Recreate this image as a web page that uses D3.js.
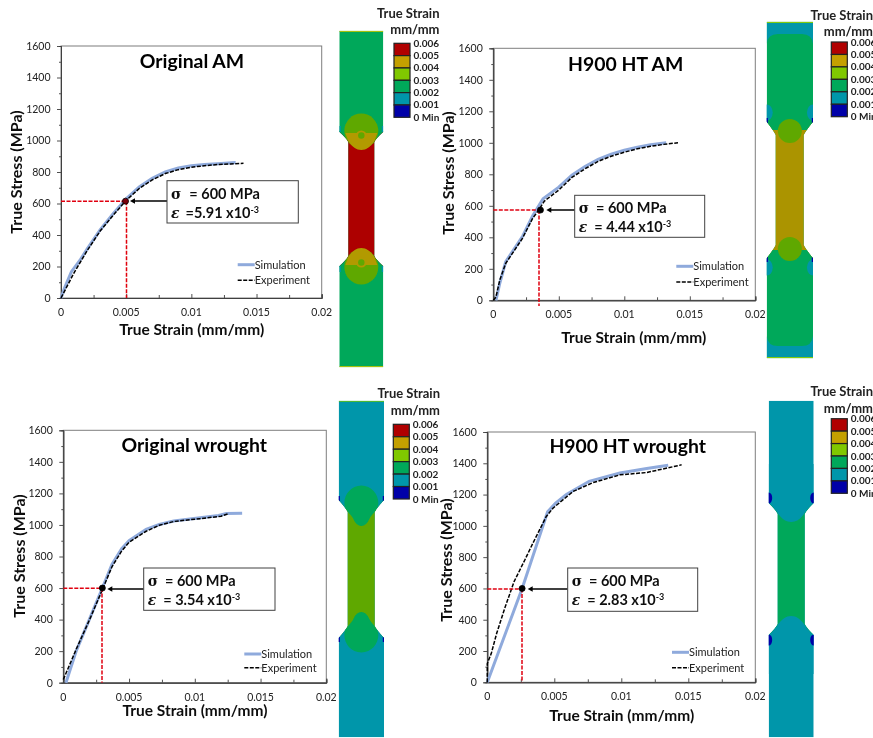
<!DOCTYPE html>
<html>
<head>
<meta charset="utf-8">
<script src="https://cdn.jsdelivr.net/npm/d3@7"></script>
<style>
  html, body { margin: 0; padding: 0; background: #fff; overflow: hidden; }
  svg { display: block; }
  text { font-family: Lato, "Open Sans", sans-serif; }
</style>
</head>
<body>
<svg width="873" height="738"></svg>
<script>
// stress-strain curves, [strain, stress MPa]
const origAmSim = [[0,0],[0.0003,70],[0.0008,167],[0.0015,245],[0.002,310],[0.003,432],[0.004,535],[0.005,630],[0.006,705],[0.007,760],[0.008,800],[0.009,825],[0.01,840],[0.011,848],[0.012,853],[0.0134,860]];
const origAmExp = [[0,0],[0.0005,80],[0.001,160],[0.002,300],[0.003,425],[0.004,525],[0.005,620],[0.006,695],[0.007,750],[0.008,790],[0.009,815],[0.01,830],[0.011,840],[0.012,847],[0.013,851],[0.014,855]];
const h900AmSim = [[0.0002,0],[0.0005,110],[0.00095,245],[0.00226,410],[0.003,535],[0.0034,590],[0.0038,645],[0.005,718],[0.006,795],[0.007,850],[0.008,895],[0.009,928],[0.01,953],[0.011,972],[0.012,987],[0.0132,1000]];
const h900AmExp = [[0,0],[0.0002,20],[0.0005,130],[0.00095,235],[0.0022,390],[0.003,520],[0.0034,565],[0.0039,630],[0.005,700],[0.006,780],[0.007,835],[0.008,882],[0.009,915],[0.01,940],[0.011,962],[0.012,978],[0.013,990],[0.0141,1000]];
const origWrSim = [[0.0002,0],[0.001,205],[0.002,405],[0.00297,600],[0.0037,750],[0.00444,850],[0.005,900],[0.0063,972],[0.0073,1003],[0.0084,1025],[0.0104,1045],[0.0118,1060],[0.0124,1072],[0.0136,1074]];
const origWrExp = [[0,20],[0.001,215],[0.002,400],[0.00297,590],[0.0037,735],[0.00444,835],[0.005,890],[0.0063,960],[0.0073,998],[0.0084,1022],[0.0104,1040],[0.012,1055],[0.0125,1070]];
const h900WrSim = [[0,0],[0.0026,600],[0.0045,1090],[0.0051,1145],[0.0059,1200],[0.0076,1285],[0.0099,1338],[0.0119,1367],[0.0135,1387]];
const h900WrExp = [[0,0],[0,120],[0.0003,185],[0.0007,313],[0.0013,473],[0.002,644],[0.0028,782],[0.0034,889],[0.0044,1060],[0.0049,1113],[0.0064,1220],[0.0079,1277],[0.0099,1326],[0.0119,1341],[0.0145,1390]];

const xTickLabels = [0, 0.005, 0.01, 0.015, 0.02];
const xMinorTicks = [0.0025, 0.0075, 0.0125, 0.0175];
const yTickLabels = [0, 200, 400, 600, 800, 1000, 1200, 1400, 1600];
const yMinorTicks = [100, 300, 500, 700, 900, 1100, 1300, 1500];

const legendLabels = ['0.006', '0.005', '0.004', '0.003', '0.002', '0.001', '0 Min'];
const legendColors = ['#b00000', '#c4a000', '#80c800', '#00a85a', '#0096aa', '#0000a8'];
const seriesNames = ['Simulation', 'Experiment'];

const chartTitles = ['Original AM', 'H900 HT AM', 'Original wrought', 'H900 HT wrought'];
const stressText = ['= 600 MPa', '= 600 MPa', '= 600 MPa', '= 600 MPa'];
const strainText = ['=5.91 x10', '= 4.44 x10', '= 3.54 x10', '= 2.83 x10'];
const markerPoints = [[0.00495, 615], [0.0036, 573], [0.00297, 600], [0.0026, 600]];
const simSeries = [origAmSim, h900AmSim, origWrSim, h900WrSim];
const expSeries = [origAmExp, h900AmExp, origWrExp, h900WrExp];

// layout of each panel, all in page pixels
const layouts = [
  { x0: 61, x1: 321.7, y0: 298, y1: 46, titleX: 192, titleY: 61, xLabX: 191.7, xLabY: 330, yLabX: 16, yLabY: 172,
    box: [167, 180.7, 298.3, 223], tip: 130, arrowY: 201, markFill: '#7a0010', hLineY: 201.3, vLineX: 126.5, vEnd: 298, legX: 237.7, legY: [264.7, 280.3], sigGap: 8, epsGap: 6 },
  { x0: 493.3, x1: 755.3, y0: 300.3, y1: 48.3, titleX: 625.7, titleY: 64, xLabX: 633.7, xLabY: 337.7, yLabX: 448.7, yLabY: 173,
    box: [574.7, 195.3, 704.7, 237.3], tip: 546.3, arrowY: 210, markFill: '#000', hLineY: 210, vLineX: 539, vEnd: 306, legX: 676.3, legY: [266.3, 282], sigGap: 7, epsGap: 7 },
  { x0: 63.3, x1: 326.3, y0: 682.7, y1: 430.3, titleX: 194.3, titleY: 445, xLabX: 195, xLabY: 710.7, yLabX: 19, yLabY: 556,
    box: [143.7, 568, 275, 610.3], tip: 107.3, arrowY: 589, markFill: '#000', hLineY: 588.3, vLineX: 102, vEnd: 682.7, legX: 244.3, legY: [654, 667.7], sigGap: 7, epsGap: 7 },
  { x0: 487.3, x1: 755.3, y0: 682.3, y1: 432, titleX: 627.7, titleY: 446.7, xLabX: 621.7, xLabY: 715.7, yLabX: 446, yLabY: 560,
    box: [567.7, 568, 697.7, 611.3], tip: 527.7, arrowY: 589, markFill: '#000', hLineY: 589, vLineX: 522, vEnd: 682.3, legX: 672, legY: [652.3, 667.7], sigGap: 7, epsGap: 7 }
];

const legendLayouts = [
  { barX: 394, top: 43.3, bottom: 117.3, titleR: 439.5, t1: 13, t2: 29 },
  { barX: 831.3, top: 42, bottom: 116.7, titleR: 873, t1: 15, t2: 31.7 },
  { barX: 393.3, top: 424.3, bottom: 499, titleR: 440, t1: 393.3, t2: 410 },
  { barX: 831.3, top: 418.7, bottom: 493.3, titleR: 873, t1: 391.7, t2: 408.3 }
];

const svg = d3.select('svg');
svg.append('rect').attr('width', 873).attr('height', 738).attr('fill', '#fff');

const defs = svg.append('defs');
defs.append('filter').attr('id', 'soft').append('feGaussianBlur').attr('stdDeviation', 0.5);
defs.append('filter').attr('id', 'softer').append('feGaussianBlur').attr('stdDeviation', 0.3);

layouts.forEach((p, i) => {
  const g = svg.append('g').attr('filter', 'url(#softer)');

  const xScale = d3.scaleLinear().domain([0, 0.02]).range([p.x0, p.x1]);
  const yScale = d3.scaleLinear().domain([0, 1600]).range([p.y0, p.y1]);

  // frame
  g.append('rect')
    .attr('x', p.x0).attr('y', p.y1)
    .attr('width', p.x1 - p.x0).attr('height', p.y0 - p.y1)
    .attr('fill', 'none').attr('stroke', '#7f7f7f').attr('stroke-width', 1);

  // Axes
  g.append('g').attr('transform', `translate(0,${p.y0})`)
    .call(d3.axisTop(xScale).tickValues(xTickLabels).tickSize(4).tickFormat(''));
  g.append('g').attr('transform', `translate(0,${p.y0})`)
    .call(d3.axisTop(xScale).tickValues(xMinorTicks).tickSize(3).tickFormat(''));
  const yAxis = g.append('g').attr('transform', `translate(${p.x0},0)`)
    .call(d3.axisLeft(yScale).tickValues(yTickLabels).tickSize(4).tickFormat(d => d));
  g.append('g').attr('transform', `translate(${p.x0},0)`)
    .call(d3.axisLeft(yScale).tickValues(yMinorTicks).tickSize(2).tickFormat(''));
  g.selectAll('.domain').attr('stroke', '#404040');
  g.selectAll('.tick line').attr('stroke', '#505050');

  yAxis.selectAll('text')
    .attr('x', -10.5).style('font-size', '10.5px').attr('fill', '#222');

  xTickLabels.forEach(t => {
    g.append('text')
      .attr('x', xScale(t)).attr('y', p.y0 + 18)
      .attr('text-anchor', 'middle')
      .style('font-size', '10.5px').attr('fill', '#222')
      .text(t);
  });

  // Labels
  g.append('text')
    .attr('x', p.titleX).attr('y', p.titleY)
    .attr('dy', '0.35em').attr('text-anchor', 'middle')
    .style('font-size', '19.4px').style('font-weight', 700).attr('fill', '#000')
    .text(chartTitles[i]);

  g.append('text')
    .attr('x', p.xLabX).attr('y', p.xLabY)
    .attr('dy', '0.35em').attr('text-anchor', 'middle')
    .style('font-size', '15.5px').style('font-weight', 700).attr('fill', '#111')
    .text('True Strain (mm/mm)');

  g.append('text')
    .attr('transform', `translate(${p.yLabX},${p.yLabY}) rotate(-90)`)
    .attr('dy', '0.35em').attr('text-anchor', 'middle')
    .style('font-size', '16px').style('font-weight', 700).attr('fill', '#111')
    .text('True Stress (MPa)');

  // Curves
  const toPix = d3.line().x(d => xScale(d[0])).y(d => yScale(d[1]));
  g.append('path').attr('d', toPix(simSeries[i]))
    .attr('fill', 'none').attr('stroke', '#8faadc').attr('stroke-width', 3);
  g.append('path').attr('d', toPix(expSeries[i]))
    .attr('fill', 'none').attr('stroke', '#000').attr('stroke-width', 1.5).attr('stroke-dasharray', '4,1.5');

  // red guide lines to the marked point
  const [mx, my] = markerPoints[i];
  g.append('line')
    .attr('x1', p.x0).attr('x2', xScale(mx)).attr('y1', p.hLineY).attr('y2', p.hLineY)
    .attr('stroke', '#e00010').attr('stroke-width', 1.5).attr('stroke-dasharray', '4,1.5');
  g.append('line')
    .attr('x1', p.vLineX).attr('x2', p.vLineX).attr('y1', yScale(my)).attr('y2', p.vEnd)
    .attr('stroke', '#e00010').attr('stroke-width', 1.5).attr('stroke-dasharray', '4,1.5');

  // annotation box and arrow
  const [bx0, by0, bx1, by1] = p.box;
  g.append('line')
    .attr('x1', bx0).attr('x2', p.tip + 4).attr('y1', p.arrowY).attr('y2', p.arrowY)
    .attr('stroke', '#000').attr('stroke-width', 1.5);
  g.append('path')
    .attr('d', `M${p.tip},${p.arrowY}l5,-2.8v5.6z`).attr('fill', '#000');

  g.append('circle')
    .attr('cx', xScale(mx)).attr('cy', yScale(my)).attr('r', 3)
    .attr('fill', p.markFill).attr('stroke', '#000').attr('stroke-width', 0.8);

  g.append('rect')
    .attr('x', bx0).attr('y', by0)
    .attr('width', bx1 - bx0).attr('height', by1 - by0)
    .attr('fill', '#fff').attr('stroke', '#404040').attr('stroke-width', 1);

  const sigma = g.append('text')
    .attr('x', bx0 + 4).attr('y', by0 + 18)
    .style('font-size', '14.5px').style('font-weight', 700).attr('fill', '#111');
  sigma.append('tspan').style('font-family', '"DejaVu Serif"').style('font-size', '14px').text('σ');
  sigma.append('tspan').attr('dx', p.sigGap).text(stressText[i]);

  const eps = g.append('text')
    .attr('x', bx0 + 4).attr('y', by0 + 37)
    .style('font-size', '14.5px').style('font-weight', 700).attr('fill', '#111');
  eps.append('tspan').style('font-family', '"DejaVu Serif"').style('font-style', 'italic').style('font-size', '14px').text('ε');
  eps.append('tspan').attr('dx', p.epsGap).text(strainText[i]);
  eps.append('tspan').attr('dy', -5).style('font-size', '9px').text('-3');

  // series legend
  seriesNames.forEach((name, k) => {
    g.append('line')
      .attr('x1', p.legX).attr('x2', p.legX + 17)
      .attr('y1', p.legY[k]).attr('y2', p.legY[k])
      .attr('stroke', k === 0 ? '#8faadc' : '#000')
      .attr('stroke-width', k === 0 ? 3 : 1.5)
      .attr('stroke-dasharray', k === 0 ? null : '4,1.5');
    g.append('text')
      .attr('x', p.legX + 17).attr('y', p.legY[k])
      .attr('dy', '0.35em')
      .style('font-size', '11px').attr('fill', '#222')
      .text(name);
  });
});

// Contour legends
legendLayouts.forEach(l => {
  const g = svg.append('g').attr('filter', 'url(#softer)');
  const yBand = d3.scaleBand().domain(d3.range(legendColors.length)).range([l.top, l.bottom]);

  g.selectAll('rect').data(legendColors).join('rect')
    .attr('x', l.barX).attr('y', (d, i) => yBand(i))
    .attr('width', 16).attr('height', yBand.bandwidth())
    .attr('fill', d => d).attr('stroke', '#222').attr('stroke-width', 1.2);

  const yLab = d3.scalePoint().domain(legendLabels).range([l.top, l.bottom]);
  g.selectAll('text.val').data(legendLabels).join('text')
    .attr('class', 'val')
    .attr('x', l.barX + 19.5).attr('y', d => yLab(d))
    .attr('dy', '0.35em')
    .style('font-size', '10px').style('font-weight', 700).attr('fill', '#222')
    .text(d => d);

  [['True Strain', l.t1], ['mm/mm', l.t2]].forEach(([txt, y]) => {
    g.append('text')
      .attr('x', l.titleR).attr('y', y)
      .attr('dy', '0.35em').attr('text-anchor', 'end')
      .style('font-size', '13px').style('font-weight', 700).attr('fill', '#222')
      .text(txt);
  });
});

// Specimen contours, symmetric about the mid height
const specimens = [
  { left: 339.3, right: 383.3, top: 30.7, bottom: 367.3, gLeft: 348.3, gRight: 374.3, sh0: 67.3, sh1: 57, grip: '#00a85a', gauge: '#ad0000', kind: 'am' },
  { left: 766.7, right: 813, top: 21.7, bottom: 358.3, gLeft: 775.7, gRight: 803.7, sh0: 68.3, sh1: 55, grip: '#00a85a', gauge: '#ab9400', kind: 'ht' },
  { left: 338.7, right: 384, top: 400.7, bottom: 737.3, gLeft: 347.7, gRight: 374.7, sh0: 69, sh1: 57, grip: '#0096aa', gauge: '#5fa800', kind: 'wr' },
  { left: 768.7, right: 813.7, top: 400.7, bottom: 737.3, gLeft: 777.7, gRight: 804.7, sh0: 66, sh1: 55, grip: '#0096aa', gauge: '#00a85a', kind: 'htw' }
];

specimens.forEach((s, i) => {
  const mid = (s.top + s.bottom) / 2;
  const cx = (s.left + s.right) / 2;
  const g = svg.append('g').attr('filter', 'url(#soft)');

  // outline: grip, sloped shoulder, gauge and back out
  const yA = mid - s.sh0, yB = mid - s.sh1, yC = mid + s.sh1, yD = mid + s.sh0;
  const outline = `M${s.left},${s.top}H${s.right}V${yA}` +
    `Q${s.gRight + 1.5},${yB - 3.5} ${s.gRight},${yB}V${yC}Q${s.gRight + 1.5},${yC + 3.5} ${s.right},${yD}V${s.bottom}` +
    `H${s.left}V${yD}Q${s.gLeft - 1.5},${yC + 3.5} ${s.gLeft},${yC}V${yB}Q${s.gLeft - 1.5},${yB - 3.5} ${s.left},${yA}Z`;

  defs.append('clipPath').attr('id', `spec${i}`).append('path').attr('d', outline);

  const c = g.append('g').attr('clip-path', `url(#spec${i})`);
  const rect = (x, y, w, h, fill) => c.append('rect').attr('x', x).attr('y', y).attr('width', w).attr('height', h).attr('fill', fill);
  const both = (fn) => { fn(1); fn(-1); };

  rect(s.left, s.top, s.right - s.left, s.bottom - s.top, s.grip);
  rect(s.left, yA, s.right - s.left, yD - yA, s.gauge);

  if (s.kind === 'am') {
    both(d => {
      const y = v => mid + d * v;
      rect(s.left, Math.min(y(68), y(60)), s.right - s.left, 8, s.grip);
      // olive bulb with a gold cap towards the gauge
      c.append('ellipse').attr('cx', cx).attr('cy', y(68)).attr('rx', 17).attr('ry', 17.5).attr('fill', '#5fa800');
      c.append('path')
        .attr('d', `M${cx - 16},${y(66)}H${cx + 16}L${cx + 13},${y(58)}C${cx + 9},${y(52)} ${cx + 5},${y(49)} ${cx},${y(49)}C${cx - 5},${y(49)} ${cx - 9},${y(52)} ${cx - 13},${y(58)}Z`)
        .attr('fill', '#b29a00');
      c.append('circle').attr('cx', cx).attr('cy', y(63)).attr('r', 5.5).attr('fill', '#b29a00');
      c.append('circle').attr('cx', cx).attr('cy', y(63.5)).attr('r', 3.2).attr('fill', '#5fa800');
      rect(s.left, y(70) - 3, 1.5, 6, '#0096aa');
      rect(s.right - 1.5, y(70) - 3, 1.5, 6, '#0096aa');
    });
    rect(s.left, s.top, s.right - s.left, 1.2, '#b9c400');
    rect(s.left, s.bottom - 1.2, s.right - s.left, 1.2, '#b9c400');
  }

  if (s.kind === 'ht') {
    both(d => {
      const y = v => mid + d * v;
      const edge = d > 0 ? s.bottom : s.top;
      // teal end cap, green dome inside it
      c.append('path')
        .attr('d', `M${s.left},${edge}H${s.right}V${y(146)}Q${s.right - 1},${y(156)} ${s.right - 11},${y(156)}H${s.left + 11}Q${s.left + 1},${y(156)} ${s.left},${y(146)}Z`)
        .attr('fill', '#0096aa');
      // green shoulder pieces around the bulb
      rect(s.left, Math.min(y(70), y(60)), s.right - s.left, 10, s.grip);
      c.append('circle').attr('cx', cx).attr('cy', y(59)).attr('r', 12).attr('fill', '#5fa800');
      // side pockets and corner tips
      [s.left, s.right].forEach(ex => {
        c.append('ellipse').attr('cx', ex).attr('cy', y(77.5)).attr('rx', 6).attr('ry', 8).attr('fill', '#0096aa');
        c.append('rect').attr('x', ex - 1.2).attr('y', y(69.5) - 2.5).attr('width', 2.4).attr('height', 5).attr('fill', '#0000a8');
      });
    });
    rect(s.left, s.top, s.right - s.left, 1.2, '#8fd000');
    rect(s.left, s.bottom - 1.2, s.right - s.left, 1.2, '#8fd000');
  }

  if (s.kind === 'wr') {
    both(d => {
      const y = v => mid + d * v;
      rect(s.left, Math.min(y(69), y(60)), s.right - s.left, 9, s.grip);
      c.append('path')
        .attr('d', `M${cx},${y(83.5)}C${cx + 10},${y(83.5)} ${cx + 17},${y(75)} ${cx + 17},${y(66)}C${cx + 17},${y(58)} ${cx + 10},${y(55)} ${cx + 8},${y(50)}` +
          `Q${cx + 5},${y(43)} ${cx},${y(43)}Q${cx - 5},${y(43)} ${cx - 8},${y(50)}C${cx - 10},${y(55)} ${cx - 17},${y(58)} ${cx - 17},${y(66)}C${cx - 17},${y(75)} ${cx - 10},${y(83.5)} ${cx},${y(83.5)}Z`)
        .attr('fill', '#00a85a');
      [s.left, s.right].forEach(ex => {
        c.append('rect').attr('x', ex - 1.2).attr('y', y(70.5) - 2.5).attr('width', 2.4).attr('height', 5).attr('fill', '#0000a8');
      });
    });
    rect(s.left, s.top, s.right - s.left, 1, '#6fc800');
  }

  if (s.kind === 'htw') {
    both(d => {
      const y = v => mid + d * v;
      // teal grip reaches into the gauge and ends in a rounded point
      c.append('path')
        .attr('d', `M${s.left},${y(105)}H${s.right}V${y(66)}C${cx + 14},${y(60)} ${cx + 11},${y(47)} ${cx},${y(47)}C${cx - 11},${y(47)} ${cx - 14},${y(60)} ${s.left},${y(66)}Z`)
        .attr('fill', '#0096aa');
      [s.left, s.right].forEach(ex => {
        c.append('ellipse').attr('cx', ex).attr('cy', y(71)).attr('rx', 3.5).attr('ry', 5.5).attr('fill', '#0000a8');
      });
    });
  }
});
</script>
</body>
</html>
